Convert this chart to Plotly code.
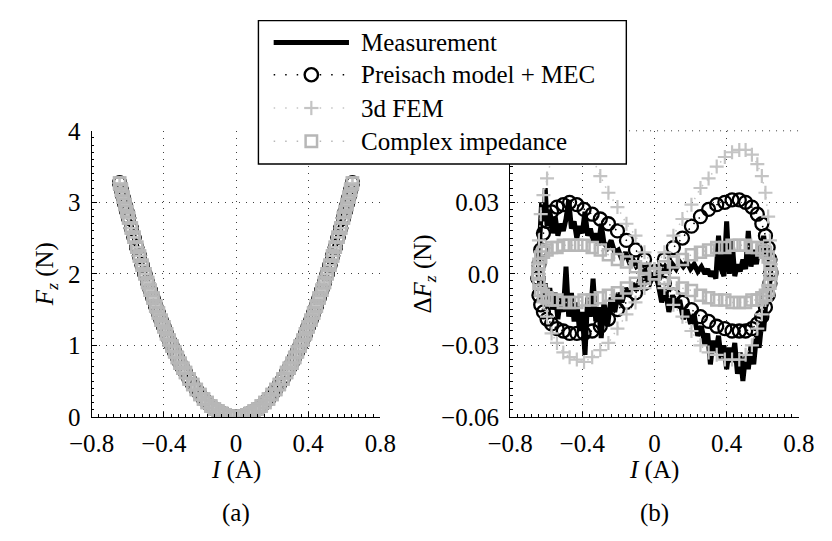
import plotly.graph_objects as go

# ---------------------------------------------------------------- data
# coil current samples of one loop: rising branch (-> +), falling branch (+ -> -)
current_up = [-0.645, -0.64, -0.63, -0.615, -0.595, -0.57, -0.54, -0.505, -0.47, -0.43,
              -0.39, -0.345, -0.30, -0.255, -0.205, -0.155, -0.105, -0.055, 0.0,
              0.055, 0.105, 0.155, 0.205, 0.255, 0.30, 0.345, 0.39, 0.43, 0.47,
              0.505, 0.54, 0.57, 0.595, 0.615, 0.63, 0.64, 0.645]
current_down = current_up[::-1]

# force deviation dFz (N) -- Preisach model + MEC
preisach_up = [-0.002, 0.004, 0.010, 0.017, 0.022, 0.026, 0.028, 0.029, 0.030, 0.029,
               0.027, 0.025, 0.023, 0.021, 0.018, 0.014, 0.010, 0.006, 0.001,
               -0.004, -0.009, -0.012, -0.015, -0.018, -0.020, -0.022, -0.023, -0.024,
               -0.024, -0.024, -0.023, -0.021, -0.018, -0.014, -0.009, -0.004, 0.000]
preisach_down = [0.001, 0.006, 0.011, 0.016, 0.021, 0.025, 0.028, 0.030, 0.031, 0.031,
                 0.030, 0.029, 0.027, 0.024, 0.020, 0.015, 0.011, 0.006, 0.001,
                 -0.004, -0.008, -0.012, -0.015, -0.019, -0.022, -0.024, -0.025, -0.025,
                 -0.025, -0.024, -0.023, -0.021, -0.019, -0.016, -0.013, -0.009, -0.002]

# force deviation dFz (N) -- 3d FEM
fem_up = [0.004, 0.014, 0.025, 0.033, 0.040, 0.049, 0.053, 0.055, 0.056, 0.055,
          0.053, 0.049, 0.041, 0.034, 0.028, 0.021, 0.016, 0.009, 0.002,
          -0.006, -0.013, -0.018, -0.024, -0.030, -0.033, -0.034, -0.036, -0.036,
          -0.036, -0.034, -0.030, -0.023, -0.017, -0.011, -0.005, 0.000, 0.004]
fem_down = [0.004, 0.014, 0.024, 0.034, 0.041, 0.046, 0.050, 0.052, 0.052, 0.051,
            0.049, 0.045, 0.040, 0.036, 0.029, 0.023, 0.016, 0.009, 0.002,
            -0.006, -0.012, -0.017, -0.023, -0.029, -0.032, -0.035, -0.037, -0.036,
            -0.035, -0.033, -0.029, -0.025, -0.018, -0.012, -0.006, 0.000, 0.004]

# force deviation dFz (N) -- complex impedance model
impedance_up = [0.000, 0.004, 0.007, 0.009, 0.010, 0.011, 0.011, 0.012, 0.012, 0.012,
                0.012, 0.011, 0.010, 0.008, 0.006, 0.005, 0.003, 0.002, 0.000,
                -0.002, -0.004, -0.006, -0.007, -0.009, -0.010, -0.011, -0.011, -0.012,
                -0.012, -0.012, -0.011, -0.011, -0.010, -0.009, -0.007, -0.004, 0.000]
impedance_down = [0.000, 0.004, 0.007, 0.009, 0.010, 0.011, 0.011, 0.012, 0.012, 0.012,
                  0.011, 0.011, 0.010, 0.009, 0.008, 0.006, 0.005, 0.003, 0.000,
                  -0.002, -0.004, -0.006, -0.008, -0.009, -0.010, -0.011, -0.011, -0.012,
                  -0.012, -0.012, -0.011, -0.011, -0.010, -0.009, -0.007, -0.004, 0.000]

# densely sampled current of the measured loop
meas_current_up = [-0.645, -0.635, -0.625, -0.615, -0.605, -0.595, -0.58, -0.565, -0.55,
                   -0.535, -0.52, -0.505, -0.49, -0.475, -0.46, -0.445, -0.43, -0.415,
                   -0.40, -0.385, -0.37, -0.355, -0.34, -0.325, -0.31, -0.295, -0.28,
                   -0.26, -0.24, -0.22, -0.20, -0.18, -0.16, -0.14, -0.12, -0.10, -0.08,
                   -0.06, -0.04, -0.02, 0.0, 0.02, 0.04, 0.06, 0.08, 0.10, 0.12, 0.14,
                   0.16, 0.18, 0.20, 0.22, 0.24, 0.26, 0.28, 0.295, 0.31, 0.325, 0.34,
                   0.355, 0.37, 0.385, 0.40, 0.415, 0.43, 0.445, 0.46, 0.475, 0.49,
                   0.505, 0.52, 0.535, 0.55, 0.565, 0.58, 0.595, 0.605, 0.615, 0.625,
                   0.635, 0.645]
meas_current_down = meas_current_up[::-1]

# axial force Fz (N) at those currents (both branches coincide at this scale)
force_up = [3.27, 3.17, 3.07, 2.97, 2.87, 2.78, 2.64, 2.51, 2.37, 2.25, 2.12, 2.00, 1.88,
            1.77, 1.66, 1.55, 1.45, 1.35, 1.26, 1.16, 1.07, 0.99, 0.91, 0.83, 0.75, 0.68,
            0.62, 0.53, 0.45, 0.38, 0.31, 0.25, 0.20, 0.15, 0.11, 0.08, 0.05, 0.03, 0.01,
            0.00, 0.00, 0.00, 0.01, 0.03, 0.05, 0.08, 0.11, 0.15, 0.20, 0.25, 0.31, 0.38,
            0.45, 0.53, 0.62, 0.68, 0.75, 0.83, 0.91, 0.99, 1.07, 1.16, 1.26, 1.35, 1.45,
            1.55, 1.66, 1.77, 1.88, 2.00, 2.12, 2.25, 2.37, 2.51, 2.64, 2.78, 2.87, 2.97,
            3.07, 3.17, 3.27]
force_down = force_up[::-1]

# measured force deviation dFz (N)
meas_up = [0.000, 0.018, 0.030, 0.022, 0.036, 0.020, 0.027, 0.017, 0.024, 0.016, 0.021,
           0.018, 0.023, 0.031, 0.019, 0.022, 0.015, 0.020, 0.017, 0.026, 0.016, 0.019,
           0.014, 0.017, 0.012, 0.021, 0.013, 0.011, 0.014, 0.009, 0.010, 0.006, 0.009,
           0.005, 0.006, 0.003, 0.004, 0.001, 0.002, -0.001, 0.000,
           -0.004, -0.012, -0.006, -0.016, -0.009, -0.014, -0.011, -0.019, -0.015,
           -0.021, -0.017, -0.026, -0.022, -0.030, -0.025, -0.038, -0.028, -0.033,
           -0.026, -0.036, -0.030, -0.040, -0.031, -0.037, -0.029, -0.042, -0.033,
           -0.045, -0.034, -0.040, -0.030, -0.038, -0.026, -0.031, -0.020, -0.024,
           -0.014, -0.012, -0.006, 0.000]
meas_down = [0.000, 0.006, 0.012, 0.009, 0.016, 0.008, 0.012, 0.004, 0.010, 0.003, 0.018,
             0.002, 0.006, 0.001, 0.004, -0.001, 0.014, 0.000, 0.022, -0.001, 0.002,
             0.016, -0.002, 0.001, -0.001, 0.002, 0.000, 0.003, 0.001, 0.004, 0.002,
             0.005, 0.003, 0.005, 0.002, 0.004, 0.001, 0.003, 0.000, 0.002, 0.000,
             -0.003, -0.001, -0.005, -0.002, -0.007, -0.004, -0.009, -0.006, -0.012,
             -0.008, -0.016, -0.010, -0.022, -0.012, -0.027, -0.014, -0.020, -0.002,
             -0.018, -0.010, -0.034, -0.016, -0.024, -0.012, -0.020, -0.008, -0.018,
             0.003, -0.016, -0.010, -0.019, -0.008, -0.015, -0.006, -0.012, -0.004,
             -0.009, -0.003, -0.004, 0.000]

series_names = ["Measurement", "Preisach model + MEC", "3d FEM", "Complex impedance"]
x_ticks = [-0.8, -0.4, 0, 0.4, 0.8]
x_ticktext = ["\u22120.8", "\u22120.4", "0", "0.4", "0.8"]
fz_ticks = [0, 1, 2, 3, 4]
dfz_ticks = [-0.06, -0.03, 0.0, 0.03]
dfz_ticktext = ["\u22120.06", "\u22120.03", "0.0", "0.03"]

# ---------------------------------------------------------------- styles
W, H = 832, 541
FONT = "'Liberation Serif', 'Times New Roman', Tinos, 'DejaVu Serif', serif"
FS = 25
BLACK = "#000000"
FEM_GRAY = "#c4c4c4"
IMP_GRAY = "#b7b7b7"
DOT = "1.5px,6px"
GRID_DOT = "1px,6px"


def px(x):
    return x / W


def py(y):
    return 1 - y / H


def styled_traces(xa, ya, xs_m, ys_m, xs, ys_p, ys_f, ys_i):
    return [
        go.Scatter(x=xs_m, y=ys_m, mode="lines", xaxis=xa, yaxis=ya, showlegend=False,
                   line=dict(color=BLACK, width=5)),
        go.Scatter(x=xs, y=ys_p, mode="lines+markers", xaxis=xa, yaxis=ya, showlegend=False,
                   line=dict(color=BLACK, width=1.5, dash=DOT),
                   marker=dict(symbol="circle-open", size=13, color=BLACK,
                               line=dict(width=2.3, color=BLACK))),
        go.Scatter(x=xs, y=ys_f, mode="lines+markers", xaxis=xa, yaxis=ya, showlegend=False,
                   line=dict(color=FEM_GRAY, width=1.5, dash=DOT),
                   marker=dict(symbol="cross-thin-open", size=10, color=FEM_GRAY,
                               line=dict(width=2.2, color=FEM_GRAY))),
        go.Scatter(x=xs, y=ys_i, mode="lines+markers", xaxis=xa, yaxis=ya, showlegend=False,
                   line=dict(color=IMP_GRAY, width=1.5, dash=DOT),
                   marker=dict(symbol="square-open", size=11, color=IMP_GRAY,
                               line=dict(width=2.5, color=IMP_GRAY))),
    ]


fig = go.Figure()

# (a) Fz over current
loop_current_dense = meas_current_up + meas_current_down
loop_force = force_up + force_down
for tr in styled_traces("x", "y", loop_current_dense, loop_force, loop_current_dense,
                        loop_force, loop_force, loop_force):
    fig.add_trace(tr)

# (b) force deviation over current
loop_current = current_up + current_down
for tr in styled_traces("x2", "y2",
                        loop_current_dense, meas_up + meas_down,
                        loop_current,
                        preisach_up + preisach_down,
                        fem_up + fem_down,
                        impedance_up + impedance_down):
    fig.add_trace(tr)

axis_common = dict(
    showline=True, linecolor=BLACK, linewidth=1.3, mirror=False,
    ticks="inside", ticklen=5, tickwidth=1, tickcolor=BLACK,
    showgrid=True, gridcolor="#404040", gridwidth=1, griddash=GRID_DOT,
    zeroline=False, tickfont=dict(family=FONT, size=FS, color=BLACK),
)
x_common = dict(axis_common, range=[-0.8, 0.8], tickmode="array", tickvals=x_ticks,
                ticktext=x_ticktext, ticklabelstandoff=4,
                minor=dict(ticks="inside", ticklen=2.5, dtick=0.04, tickcolor=BLACK,
                           showgrid=False))

fig.update_layout(
    width=W, height=H, margin=dict(l=0, r=0, t=0, b=0),
    paper_bgcolor="white", plot_bgcolor="white", showlegend=False,
    font=dict(family=FONT, size=FS, color=BLACK),
    xaxis=dict(x_common, domain=[px(72), px(375)], anchor="y"),
    yaxis=dict(axis_common, domain=[py(425), py(124)], anchor="x", range=[0, 4],
               tickmode="array", tickvals=fz_ticks, ticklabelstandoff=5,
               minor=dict(ticks="inside", ticklen=2.5, dtick=0.1, tickcolor=BLACK,
                          showgrid=False)),
    xaxis2=dict(x_common, domain=[px(511), px(814)], anchor="y2"),
    yaxis2=dict(axis_common, domain=[py(425), py(124)], anchor="x2", range=[-0.06, 0.06],
                tickmode="array", tickvals=dfz_ticks, ticktext=dfz_ticktext,
                ticklabelstandoff=5,
                minor=dict(ticks="inside", ticklen=2.5, dtick=0.003, tickcolor=BLACK,
                           showgrid=False)),
)

annotations = [
    dict(text="<i>I</i> (A)", x=px(223.5), y=py(481)),
    dict(text="<i>I</i> (A)", x=px(662.5), y=py(481)),
    dict(text="(a)", x=px(223.5), y=py(526)),
    dict(text="(b)", x=px(662.5), y=py(526)),
    dict(text="<i>F<sub>z</sub></i> (N)", x=px(24), y=py(275), textangle=-90),
    dict(text="\u0394<i>F<sub>z</sub></i> (N)", x=px(421), y=py(275), textangle=-90),
]
for a in annotations:
    a.update(xref="paper", yref="paper", showarrow=False, xanchor="center",
             yanchor="middle", font=dict(family=FONT, size=FS, color=BLACK))

# top grid line of panel (b) at dFz = 0.06 (no tick label there)
shapes = [dict(type="line", xref="x2 domain", yref="paper", x0=0, x1=1,
               y0=py(124), y1=py(124),
               line=dict(color="#404040", width=1, dash=GRID_DOT), layer="below")]

# legend box drawn over the plots
LEG_X0, LEG_X1, LEG_Y0, LEG_Y1 = 247, 633, 8, 159
SAMPLE_X0, SAMPLE_X1, TEXT_X = 263, 342, 352
rows = [31, 65, 100, 135]
mid = (SAMPLE_X0 + SAMPLE_X1) / 2
shapes.append(dict(type="rect", xref="paper", yref="paper", x0=px(LEG_X0), x1=px(LEG_X1),
                   y0=py(LEG_Y1), y1=py(LEG_Y0), fillcolor="white",
                   line=dict(color=BLACK, width=1.4), layer="above"))


def seg(x0, y0, x1, y1, color, width, dash="solid"):
    return dict(type="line", xref="paper", yref="paper", x0=px(x0), y0=py(y0),
                x1=px(x1), y1=py(y1), line=dict(color=color, width=width, dash=dash),
                layer="above")


shapes.append(seg(SAMPLE_X0, rows[0], SAMPLE_X1, rows[0], BLACK, 5))
shapes.append(seg(SAMPLE_X0, rows[1], SAMPLE_X1, rows[1], BLACK, 1.5, "1.5px,10px"))
shapes.append(dict(type="circle", xref="paper", yref="paper", x0=px(mid - 7), x1=px(mid + 7),
                   y0=py(rows[1] + 7), y1=py(rows[1] - 7), fillcolor="white",
                   line=dict(color=BLACK, width=2.4), layer="above"))
shapes.append(seg(SAMPLE_X0, rows[2], SAMPLE_X1, rows[2], FEM_GRAY, 1.5, "1.5px,10px"))
shapes.append(seg(mid - 7.5, rows[2], mid + 7.5, rows[2], FEM_GRAY, 2.2))
shapes.append(seg(mid, rows[2] - 7.5, mid, rows[2] + 7.5, FEM_GRAY, 2.2))
shapes.append(seg(SAMPLE_X0, rows[3], SAMPLE_X1, rows[3], IMP_GRAY, 1.5, "1.5px,10px"))
shapes.append(dict(type="rect", xref="paper", yref="paper", x0=px(mid - 6), x1=px(mid + 6),
                   y0=py(rows[3] + 6), y1=py(rows[3] - 6), fillcolor="white",
                   line=dict(color=IMP_GRAY, width=2.5), layer="above"))

for name, yrow in zip(series_names, rows):
    annotations.append(dict(text=name, x=px(TEXT_X), y=py(yrow), xref="paper", yref="paper",
                            showarrow=False, xanchor="left", yanchor="middle",
                            font=dict(family=FONT, size=FS, color=BLACK)))

fig.update_layout(shapes=shapes, annotations=annotations)
fig.write_html("out.html")
